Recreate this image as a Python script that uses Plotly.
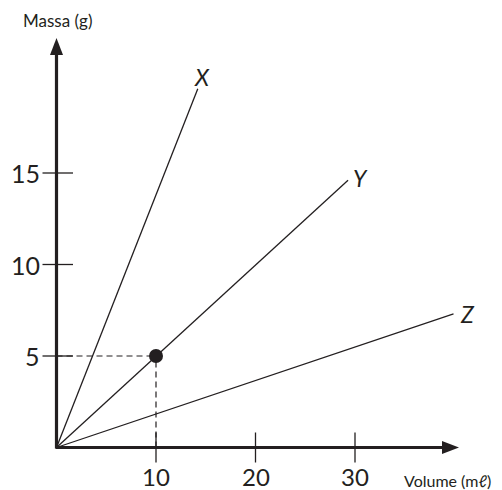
import plotly.graph_objects as go

# Data
line_names = ["X", "Y", "Z"]
x_end = [14.2, 29.3, 39.9]
y_end = [19.6, 14.6, 7.3]
point_x = [10]
point_y = [5]
x_ticks = [10, 20, 30]
y_ticks = [5, 10, 15]
x_title = "Volume (mℓ)"
y_title = "Massa (g)"

INK = "#231f20"
FONT = "Lato"

# pixel mapping: px = x0px + sx*x ; py = y0px - sy*y
W, H = 502, 490
x0px, y0px = 56.5, 447.5
sx, sy = 9.95, 18.3
xr = [-x0px / sx, (W - x0px) / sx]
yr = [-(H - y0px) / sy, y0px / sy]

fig = go.Figure()

# lines from origin
for name, xe, ye in zip(line_names, x_end, y_end):
    fig.add_trace(go.Scatter(x=[0, xe], y=[0, ye], mode="lines",
                             line=dict(color=INK, width=1.3), showlegend=False,
                             hoverinfo="skip"))

# dashed guides
fig.add_trace(go.Scatter(x=[0, point_x[0]], y=[point_y[0], point_y[0]], mode="lines",
                         line=dict(color=INK, width=1.2, dash="6px,4px"),
                         showlegend=False))
fig.add_trace(go.Scatter(x=[point_x[0], point_x[0]], y=[0, point_y[0]], mode="lines",
                         line=dict(color=INK, width=1.2, dash="6px,4px"),
                         showlegend=False))

# point
fig.add_trace(go.Scatter(x=point_x, y=point_y, mode="markers",
                         marker=dict(color=INK, size=14), showlegend=False))

shapes = []
# axes
x_tip = (459 - x0px) / sx
y_tip = (y0px - 38) / sy
shapes.append(dict(type="line", x0=-0.08, y0=0, x1=x_tip - 1.2, y1=0,
                   line=dict(color=INK, width=3.2)))
shapes.append(dict(type="line", x0=0, y0=-0.05, x1=0, y1=y_tip - 0.6,
                   line=dict(color=INK, width=3.2)))
# arrowheads
ah_len_x = 17 / sx
ah_w_x = 6.5 / sy
shapes.append(dict(type="path",
                   path=f"M {x_tip},0 L {x_tip - ah_len_x},{ah_w_x} L {x_tip - ah_len_x},{-ah_w_x} Z",
                   fillcolor=INK, line=dict(color=INK, width=0)))
ah_len_y = 17 / sy
ah_w_y = 6.5 / sx
shapes.append(dict(type="path",
                   path=f"M 0,{y_tip} L {ah_w_y},{y_tip - ah_len_y} L {-ah_w_y},{y_tip - ah_len_y} Z",
                   fillcolor=INK, line=dict(color=INK, width=0)))
# ticks crossing axes
for t in x_ticks:
    shapes.append(dict(type="line", x0=t, x1=t, y0=-15 / sy, y1=15 / sy,
                       line=dict(color=INK, width=1.3)))
for t in y_ticks:
    shapes.append(dict(type="line", y0=t, y1=t, x0=-14 / sx, x1=16.5 / sx,
                       line=dict(color=INK, width=1.3)))

annotations = []
for t in x_ticks:
    annotations.append(dict(x=t, y=0, text=str(t), showarrow=False,
                            xanchor="center", yanchor="top", yshift=-12,
                            font=dict(family=FONT, size=24, color=INK)))
for t in y_ticks:
    annotations.append(dict(x=0, y=t, text=str(t), showarrow=False,
                            xanchor="right", yanchor="middle", xshift=-15,
                            font=dict(family=FONT, size=25, color=INK)))
label_shift = [(4, 12), (12, 2), (14, 0)]
for name, xe, ye, (dx, dy) in zip(line_names, x_end, y_end, label_shift):
    annotations.append(dict(x=xe, y=ye, text=f"<i>{name}</i>", showarrow=False,
                            xanchor="center", yanchor="middle", xshift=dx, yshift=dy,
                            font=dict(family=FONT, size=23, color=INK)))
annotations.append(dict(x=0, y=y_tip, text=y_title, showarrow=False,
                        xanchor="center", yanchor="bottom", xshift=1, yshift=5,
                        font=dict(family=FONT, size=17, color=INK)))
annotations.append(dict(x=x_tip, y=0, text=x_title, showarrow=False,
                        xanchor="center", yanchor="top", xshift=-12, yshift=-21,
                        font=dict(family=FONT, size=16, color=INK)))

fig.update_layout(
    width=W, height=H,
    margin=dict(l=0, r=0, t=0, b=0),
    paper_bgcolor="white", plot_bgcolor="white",
    xaxis=dict(range=xr, visible=False, fixedrange=True),
    yaxis=dict(range=yr, visible=False, fixedrange=True),
    shapes=shapes, annotations=annotations,
    showlegend=False,
)

fig.write_html("out.html", config={"displayModeBar": False},
               post_script="document.body.style.margin='0';document.body.style.padding='0';")
